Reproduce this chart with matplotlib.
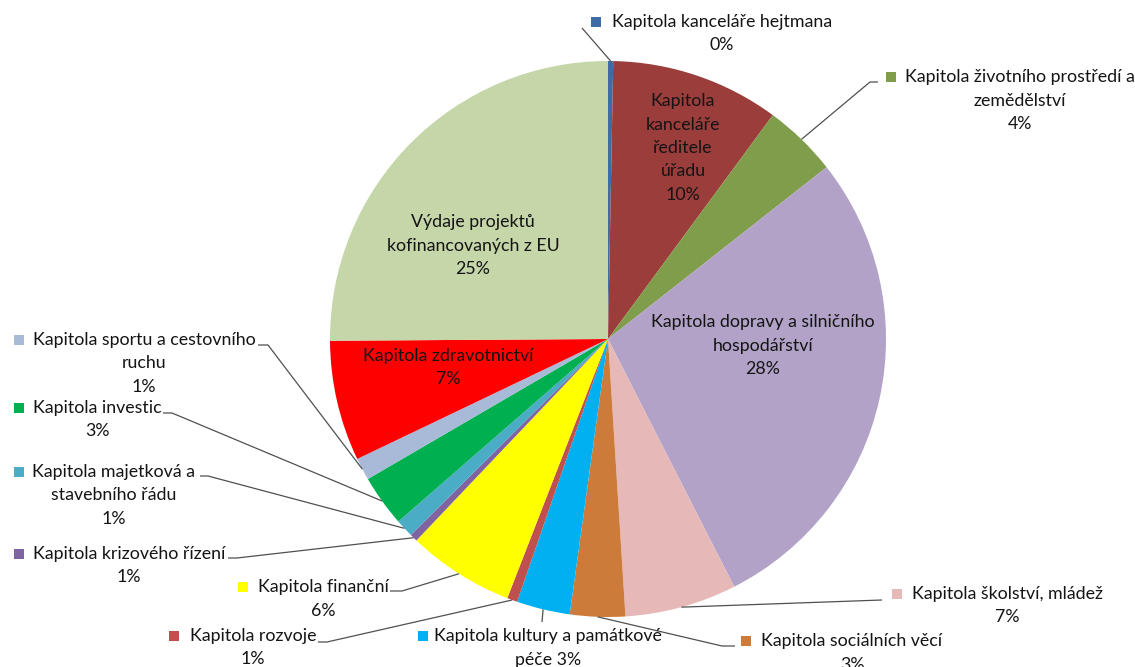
import numpy as np
import matplotlib
matplotlib.use('Agg')
import matplotlib.pyplot as plt
from matplotlib.patches import Rectangle

plt.rcParams['font.family'] = ['Lato', 'DejaVu Sans']

# data: share of budget (% of total), clockwise from 12 o'clock
categories = ['Kapitola kanceláře hejtmana',
              'Kapitola kanceláře ředitele úřadu',
              'Kapitola životního prostředí a zemědělství',
              'Kapitola dopravy a silničního hospodářství',
              'Kapitola školství, mládež',
              'Kapitola sociálních věcí',
              'Kapitola kultury a památkové péče',
              'Kapitola rozvoje',
              'Kapitola finanční',
              'Kapitola krizového řízení',
              'Kapitola majetková a stavebního řádu',
              'Kapitola investic',
              'Kapitola sportu a cestovního ruchu',
              'Kapitola zdravotnictví',
              'Výdaje projektů kofinancovaných z EU']
shares = [0.3, 9.8, 4.3, 28.1, 6.5, 3.2, 3.1, 0.6, 6.2, 0.45, 1.05, 3.0, 1.3, 7.0, 25.1]
pct_labels = ['0%', '10%', '4%', '28%', '7%', '3%', '3%', '1%', '6%', '1%', '1%', '3%', '1%', '7%', '25%']
colors = ['#3E6DA6', '#9B3D3B', '#7F9D4A', '#B2A2C7', '#E6B9B8', '#CC7B3A', '#00B0F0',
          '#C0504D', '#FFFF00', '#8064A2', '#4BACC6', '#00B050', '#A9BAD9', '#FF0000', '#C5D6A9']

W, H = 1135, 667
cx, cy, R = 608, 339, 278

fig = plt.figure(figsize=(W / 100, H / 100), dpi=100)
ax = fig.add_axes([0, 0, 1, 1])

# y axis inverted below, so counterclock in data = clockwise on screen
ax.pie(shares, colors=colors, startangle=270, counterclock=True, center=(cx, cy),
       radius=R, wedgeprops=dict(linewidth=0))
ax.set_xlim(0, W)
ax.set_ylim(H, 0)
ax.set_aspect('equal')
ax.axis('off')

frac = np.array(shares) / np.sum(shares)
mid = (np.cumsum(frac) - frac / 2) * 2 * np.pi   # clockwise from top


def edge(i, r=R):
    return cx + r * np.sin(mid[i]), cy - r * np.cos(mid[i])


pitch = 23.5
tc = '#141414'
fs = 12.8


def block(lines, x, y0):
    for k, s in enumerate(lines):
        ax.text(x, y0 + k * pitch, s, ha='center', va='center', fontsize=fs, color=tc)


# labels inside the pie
block(['Kapitola', 'kanceláře', 'ředitele', 'úřadu', pct_labels[1]], 683, 101)
block(['Kapitola dopravy a silničního', 'hospodářství', pct_labels[3]], 763, 322)
block(['Kapitola zdravotnictví', pct_labels[13]], 448, 356)
block(['Výdaje projektů', 'kofinancovaných z EU', pct_labels[14]], 473, 222)

# outside labels: index, lines, text centre x, first line y, square x, leader points
outside = [
    (0, ['Kapitola kanceláře hejtmana', pct_labels[0]], 722, 22, 596, [(582, 28)]),
    (2, ['Kapitola životního prostředí a', 'zemědělství', pct_labels[2]], 1020, 77, 891, [(878, 82), (870, 82)]),
    (4, ['Kapitola školství, mládež', pct_labels[4]], 1007, 594, 897, [(882, 600)]),
    (5, ['Kapitola sociálních věcí', pct_labels[5]], 852, 641, 746, [(735, 646), (722, 646)]),
    (6, ['Kapitola kultury a památkové', 'péče ' + pct_labels[6]], 548, 636, 423, [(542, 622)]),
    (7, ['Kapitola rozvoje', pct_labels[7]], 253, 636, 174, [(318, 642), (327, 642)]),
    (8, ['Kapitola finanční', pct_labels[8]], 323, 587, 243, [(390, 591), (402, 591)]),
    (9, ['Kapitola krizového řízení', pct_labels[9]], 129, 554, 19, [(228, 558), (237, 558)]),
    (10, ['Kapitola majetková a', 'stavebního řádu', pct_labels[10]], 114, 472, 19, [(200, 476), (208, 476)]),
    (11, ['Kapitola investic', pct_labels[11]], 97, 408, 19, [(163, 413), (172, 413)]),
    (12, ['Kapitola sportu a cestovního', 'ruchu', pct_labels[12]], 144, 340, 19, [(258, 345), (268, 345)]),
]

for i, lines, x, y0, sx, pts in outside:
    block(lines, x, y0)
    ax.add_patch(Rectangle((sx - 5, y0 - 5), 10, 10, facecolor=colors[i], edgecolor='none'))
    px, py = edge(i)
    xs = [p[0] for p in pts] + [px]
    ys = [p[1] for p in pts] + [py]
    ax.plot(xs, ys, color='#505050', lw=0.9, solid_capstyle='butt')

fig.savefig('out.png', dpi=100)
